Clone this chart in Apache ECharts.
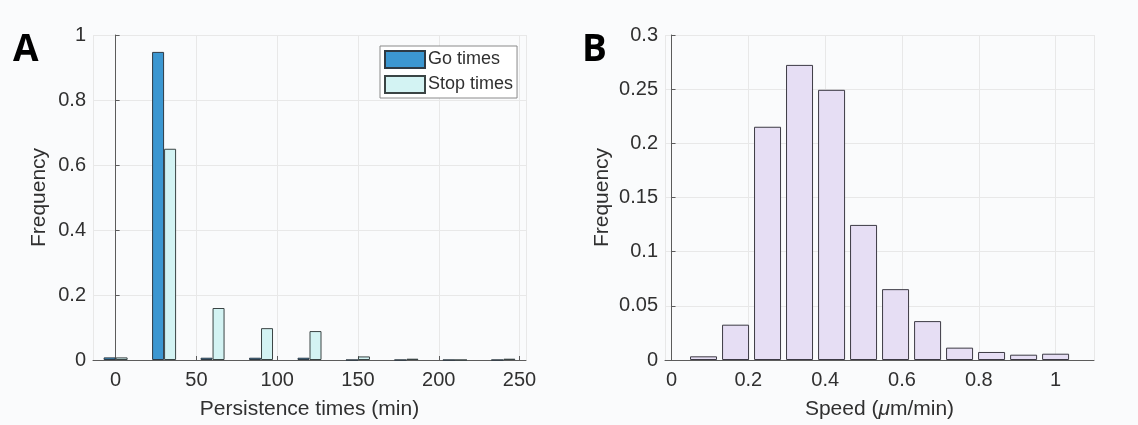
<!DOCTYPE html>
<html>
<head>
<meta charset="utf-8">
<script src="https://cdn.jsdelivr.net/npm/echarts@6/dist/echarts.min.js"></script>
<style>
  html, body { margin: 0; padding: 0; background: #fafbfc; }
  #chart { width: 1138px; height: 425px; }
</style>
</head>
<body>
<div id="chart"></div>
<script>
// panel A: persistence time histogram (bin centres in min)
const binsA = [0, 30, 60, 90, 120, 150, 180, 210, 240];
const goTimes = [0.008, 0.948, 0.007, 0.007, 0.007, 0, 0, 0, 0];
const stopTimes = [0.008, 0.65, 0.16, 0.098, 0.089, 0.011, 0.004, 0, 0.004];

// panel B: speed histogram (bin centres in um/min)
const binsB = [0.0833, 0.1667, 0.25, 0.3333, 0.4167, 0.5, 0.5833, 0.6667, 0.75, 0.8333, 0.9167, 1.0];
const speedFreq = [0.0034, 0.0326, 0.2153, 0.2724, 0.2494, 0.1247, 0.0654, 0.0359, 0.0114, 0.0074, 0.0049, 0.0058];

const font = 'Liberation Sans';
const txt = '#303030';
const axisCol = '#5c5c5c';
const gridCol = '#e8e8e8';

function pairs(xs, ys) {
  let out = [];
  for (let i = 0; i < xs.length; i++) out.push([xs[i], ys[i]]);
  return out;
}

function valueAxis(extra) {
  return Object.assign({
    type: 'value',
    axisLine: { show: true, lineStyle: { color: axisCol, width: 1 } },
    axisTick: { show: true, inside: true, length: 4, lineStyle: { color: axisCol } },
    axisLabel: { color: txt, fontSize: 20, fontFamily: font, margin: 7 },
    splitLine: { show: true, lineStyle: { color: gridCol, width: 1 } },
    nameLocation: 'middle',
    nameTextStyle: { color: txt, fontSize: 21, fontFamily: font }
  }, extra);
}

const chart = echarts.init(document.getElementById('chart'));

const option = {
  backgroundColor: '#fafbfc',
  animation: false,
  title: [
    { text: 'A', left: 8, top: 27, textStyle: { fontSize: 37, fontWeight: 'bold', fontFamily: 'Open Sans', color: '#000' } },
    { text: 'B', left: 577, top: 27, textStyle: { fontSize: 37, fontWeight: 'bold', fontFamily: 'Open Sans', color: '#000' } }
  ],
  legend: {
    left: 380, top: 46,
    orient: 'vertical',
    itemWidth: 40, itemHeight: 17, itemGap: 6,
    padding: [4, 4, 4, 4],
    borderColor: '#8a8a8a', borderWidth: 1,
    backgroundColor: '#ffffff',
    borderRadius: 0,
    icon: 'rect',
    textStyle: { color: txt, fontSize: 18, fontFamily: font, padding: [0, 0, 0, -2] },
    data: ['Go times', 'Stop times']
  },
  grid: [
    { left: 93, top: 35, width: 433, bottom: 64 },
    { left: 665, top: 35, width: 429, bottom: 64 }
  ],
  xAxis: [
    valueAxis({
      gridIndex: 0, min: -14, max: 254,
      name: 'Persistence times (min)', nameGap: 39,
      axisLabel: { color: txt, fontSize: 20, fontFamily: font, margin: 10, showMinLabel: false, showMaxLabel: false }
    }),
    valueAxis({
      gridIndex: 1, min: -0.017, max: 1.1,
      name: 'Speed ({i|μ}m/min)', nameGap: 39,
      nameTextStyle: {
        color: txt, fontSize: 21, fontFamily: font,
        rich: { i: { fontStyle: 'italic', fontSize: 21, fontFamily: font, color: txt } }
      },
      axisLabel: { color: txt, fontSize: 20, fontFamily: font, margin: 10, showMinLabel: false, showMaxLabel: false }
    })
  ],
  yAxis: [
    valueAxis({ gridIndex: 0, min: 0, max: 1, interval: 0.2, name: 'Frequency', nameGap: 43 }),
    valueAxis({ gridIndex: 1, min: 0, max: 0.3, interval: 0.05, name: 'Frequency', nameGap: 52 })
  ],
  series: [
    {
      name: 'Go times', type: 'bar', xAxisIndex: 0, yAxisIndex: 0,
      barWidth: 12, barGap: '0%',
      itemStyle: { color: '#3c97d1', borderColor: '#2e3a44', borderWidth: 1 },
      data: pairs(binsA, goTimes)
    },
    {
      name: 'Stop times', type: 'bar', xAxisIndex: 0, yAxisIndex: 0,
      barWidth: 12, barGap: '0%',
      itemStyle: { color: '#d3f3f3', borderColor: '#3a4444', borderWidth: 1 },
      data: pairs(binsA, stopTimes)
    },
    {
      name: 'Speed', type: 'bar', xAxisIndex: 1, yAxisIndex: 1,
      barWidth: 27,
      itemStyle: { color: '#e6def4', borderColor: '#3c3a44', borderWidth: 1 },
      data: pairs(binsB, speedFreq)
    }
  ]
};

option && chart.setOption(option);
</script>
</body>
</html>
